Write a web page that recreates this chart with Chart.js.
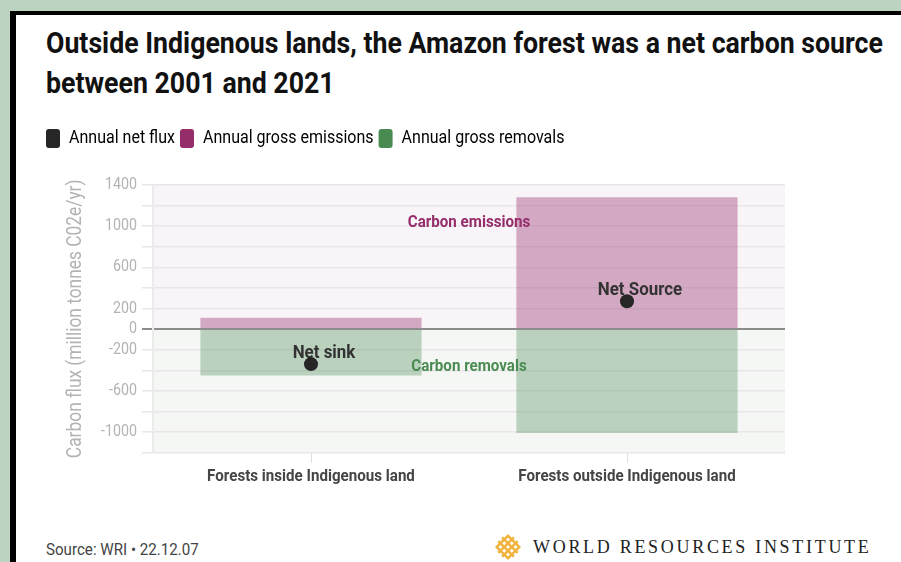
<!DOCTYPE html>
<html>
<head>
<meta charset="utf-8">
<script src="https://cdn.jsdelivr.net/npm/chart.js@4.4.0/dist/chart.umd.min.js"></script>
<style>
  html, body { margin: 0; padding: 0; }
  body {
    width: 901px; height: 562px; overflow: hidden; position: relative;
    background: #bcd3c0;
    font-family: Roboto, "DejaVu Sans Condensed", sans-serif;
  }
  .frame {
    position: absolute; left: 10px; top: 11px; right: 0; bottom: 0;
    background: #fff; border-left: 6px solid #000; border-top: 4px solid #000;
  }
  /* no condensed face installed, so squeeze horizontally */
  .squeeze { white-space: nowrap; transform: scaleX(0.89); transform-origin: left top; }
  h1 {
    position: absolute; left: 46px; top: 23px; margin: 0;
    font-size: 30px; line-height: 40px; font-weight: bold; color: #111;
  }
  .chart-box { position: absolute; left: 36px; top: 124px; width: 865px; height: 379px; }
  .source { position: absolute; left: 46px; top: 539px; font-size: 17px; color: #444; }
  .logo-mark { position: absolute; left: 492px; top: 531px; }
  .logo-text {
    position: absolute; left: 533px; top: 537px;
    font-family: "Liberation Serif", "DejaVu Serif", serif;
    font-size: 18px; letter-spacing: 2.7px; color: #222;
  }
</style>
</head>
<body>
<div class="frame"></div>
<h1 class="squeeze">Outside Indigenous lands, the Amazon forest was a net carbon source<br>between 2001 and 2021</h1>
<div class="chart-box"><canvas id="chart"></canvas></div>
<div class="source squeeze">Source: WRI • 22.12.07</div>
<svg class="logo-mark" width="32" height="32" viewBox="0 0 32 32">
  <g transform="rotate(45 16 16)" fill="none" stroke="#f0b23b" stroke-width="2.4">
    <rect x="8" y="8" width="16" height="16"/>
    <line x1="13.3" y1="5" x2="13.3" y2="27"/>
    <line x1="18.7" y1="5" x2="18.7" y2="27"/>
    <line x1="5" y1="13.3" x2="27" y2="13.3"/>
    <line x1="5" y1="18.7" x2="27" y2="18.7"/>
  </g>
</svg>
<div class="logo-text">WORLD RESOURCES INSTITUTE</div>

<script>
var FONT = 'Roboto, "DejaVu Sans Condensed", sans-serif';
var SQUEEZE = 0.89;

// data (million tonnes CO2e / yr, 2001-2021 annual averages)
var categories = ['Forests inside Indigenous land', 'Forests outside Indigenous land'];
var grossEmissions = [110, 1280];
var grossRemovals = [-450, -1010];
var netFlux = [-340, 270];
var netLabels = ['Net sink', 'Net Source'];
var yTickLabels = [1400, 1000, 600, 200, 0, -200, -600, -1000];

var seriesNames = ['Annual net flux', 'Annual gross emissions', 'Annual gross removals'];
var seriesColors = ['#262626', '#952d6b', '#4a8b52'];

// text notes in the plot, anchored in data units
var areaNotes = [
  { text: 'Carbon emissions', at: 0.5, value: 1030, color: '#952d6b' },
  { text: 'Carbon removals', at: 0.5, value: -365, color: '#4a8b52' }
];

// same trick as the css .squeeze for text drawn on the canvas
var condense = {
  id: 'condense',
  beforeInit: function(chart) {
    var ctx = chart.ctx;
    var fill = ctx.fillText.bind(ctx), measure = ctx.measureText.bind(ctx);
    ctx.fillText = function(text, x, y, maxWidth) {
      ctx.save();
      ctx.translate(x, y);
      ctx.scale(SQUEEZE, 1);
      if (maxWidth === undefined) fill(text, 0, 0); else fill(text, 0, 0, maxWidth / SQUEEZE);
      ctx.restore();
    };
    ctx.measureText = function(text) {
      var m = measure(text);
      return { width: m.width * SQUEEZE,
               actualBoundingBoxAscent: m.actualBoundingBoxAscent,
               actualBoundingBoxDescent: m.actualBoundingBoxDescent };
    };
  }
};

// pink above zero, pale green below
var bands = {
  id: 'bands',
  beforeDraw: function(chart) {
    var a = chart.chartArea, ctx = chart.ctx;
    var y0 = chart.scales.y.getPixelForValue(0);
    ctx.save();
    ctx.fillStyle = '#f9f4f8';
    ctx.fillRect(a.left, a.top, a.right - a.left, y0 - a.top);
    ctx.fillStyle = '#f5f7f5';
    ctx.fillRect(a.left, y0, a.right - a.left, a.bottom - y0);
    ctx.restore();
  }
};

var notes = {
  id: 'notes',
  beforeDatasetDraw: function(chart, args) {
    if (args.index !== 0) return;
    var ctx = chart.ctx, x = chart.scales.x, y = chart.scales.y;
    ctx.save();
    ctx.textAlign = 'center';
    ctx.textBaseline = 'middle';
    ctx.font = 'bold 17px ' + FONT;
    areaNotes.forEach(function(n) {
      ctx.fillStyle = n.color;
      ctx.fillText(n.text, x.getPixelForValue(n.at), y.getPixelForValue(n.value));
    });
    ctx.font = 'bold 19px ' + FONT;
    ctx.fillStyle = '#333';
    chart.getDatasetMeta(0).data.forEach(function(p, i) {
      ctx.fillText(netLabels[i], p.x + 13, p.y - 11);
    });
    ctx.restore();
  }
};

// extra room under the legend
var legendGap = {
  id: 'legendGap',
  beforeInit: function(chart) {
    var fit = chart.legend.fit;
    chart.legend.fit = function() {
      fit.bind(chart.legend)();
      this.height += 27;
    };
  }
};

new Chart(document.getElementById('chart'), {
  type: 'bar',
  data: {
    labels: categories,
    datasets: [
      {
        type: 'line', label: seriesNames[0], data: netFlux, stack: 'net', order: 0,
        showLine: false, pointRadius: 7, pointHoverRadius: 7, pointBorderWidth: 0, borderWidth: 0,
        backgroundColor: seriesColors[0], borderColor: seriesColors[0]
      },
      { label: seriesNames[1], data: grossEmissions, stack: 'gross', order: 1, backgroundColor: 'rgba(149,45,107,0.38)' },
      { label: seriesNames[2], data: grossRemovals, stack: 'gross', order: 2, backgroundColor: 'rgba(74,139,82,0.34)' }
    ]
  },
  options: {
    responsive: true,
    maintainAspectRatio: false,
    animation: false,
    layout: { padding: { left: 5, right: 116, bottom: 12 } },
    datasets: { bar: { categoryPercentage: 1, barPercentage: 0.7 } },
    scales: {
      x: {
        stacked: true,
        border: { display: false },
        grid: { drawOnChartArea: false, offset: false, tickLength: 10, color: '#dddddd' },
        ticks: { color: '#454545', padding: 4, font: { family: FONT, size: 17, weight: 'bold' } }
      },
      y: {
        stacked: true, min: -1200, max: 1400,
        afterFit: function(s) { s.width = 112; },
        border: { display: true, color: '#ebebeb', width: 2 },
        grid: {
          tickLength: 11,
          color: function(c) { return c.tick && c.tick.value === 0 ? '#8c8c8c' : '#e9e5e9'; },
          lineWidth: function(c) { return c.tick && c.tick.value === 0 ? 2 : 1.5; }
        },
        ticks: {
          stepSize: 200, autoSkip: false, padding: 5, color: '#b3b3b3',
          font: { family: FONT, size: 16 },
          callback: function(v) { return yTickLabels.indexOf(v) >= 0 ? String(v) : ''; }
        },
        title: {
          display: true, text: 'Carbon flux (million tonnes C02e/yr)', color: '#b3b3b3',
          font: { family: FONT, size: 19.5 }, padding: { top: 23, bottom: 0 }
        }
      }
    },
    plugins: {
      tooltip: { enabled: false },
      legend: {
        position: 'top', align: 'start',
        labels: {
          boxWidth: 14, boxHeight: 19, useBorderRadius: true, borderRadius: 3, padding: 5,
          color: '#333', font: { family: FONT, size: 18 },
          generateLabels: function() {
            return seriesNames.map(function(n, i) {
              return { text: n, fillStyle: seriesColors[i], strokeStyle: seriesColors[i],
                       lineWidth: 0, borderRadius: 3, datasetIndex: i, hidden: false };
            });
          }
        }
      }
    }
  },
  plugins: [condense, bands, notes, legendGap]
});
</script>
</body>
</html>
